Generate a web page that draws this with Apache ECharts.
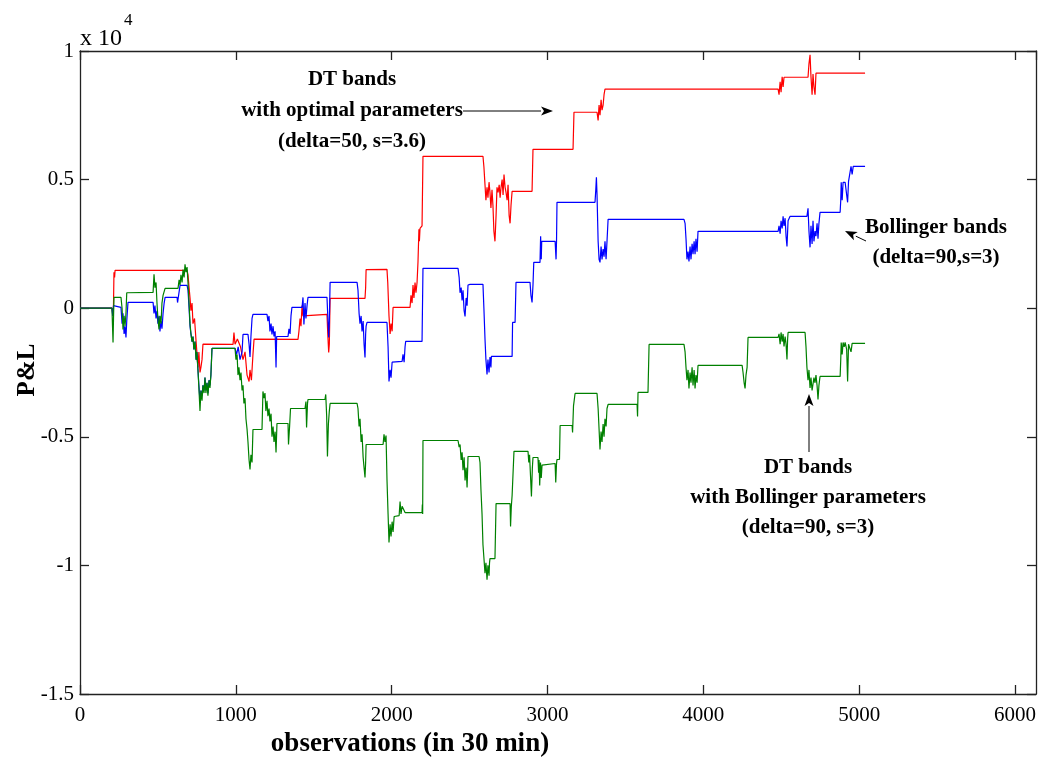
<!DOCTYPE html>
<html>
<head>
<meta charset="utf-8">
<script src="https://cdn.jsdelivr.net/npm/echarts@6/dist/echarts.min.js"></script>
<style>
html,body{margin:0;padding:0;background:#fff;}
#chart{width:1046px;height:761px;}
</style>
</head>
<body>
<div id="chart"></div>
<script>
// P&L of DT bands with optimal parameters (delta=50, s=3.6)
var dtOptimal = [[0,0],[205,0],[212,-300],[215,150],[218,1400],[222,1200],[225,1470],[687,1470],
[693,1300],[700,800],[706,400],[712,-100],[719,200],[725,-600],[735,-400],[745,-1300],[757,-2300],[763,-1700],[770,-2500],[776,-2300],[783,-2000],[789,-1400],
[796,-1410],[982,-1410],[988,-950],[995,-1400],[1010,-1200],[1030,-1500],[1046,-2000],[1059,-1700],[1072,-2600],[1085,-2850],[1091,-2400],[1100,-2800],[1110,-1800],[1117,-1200],
[1123,-1214],[1399,-1214],[1405,-900],[1412,-400],[1418,-700],[1425,100],[1431,-300],[1440,-241],[1585,-241],
[1590,-1000],[1596,-1720],[1600,-1400],[1605,380],[1829,380],[1833,800],[1836,1500],[1842,1510],[1970,1510],
[1975,1000],[1983,-300],[1990,-1000],[1996,-600],[2003,-900],[2009,31],[2118,31],
[2124,500],[2131,200],[2137,900],[2143,400],[2150,1000],[2156,600],[2163,1000],[2169,1800],[2175,3066],[2178,2600],[2182,3100],[2195,3200],[2201,5906],[2586,5906],
[2592,5500],[2599,4800],[2605,4200],[2612,4700],[2618,4300],[2625,4900],[2631,4500],[2637,3900],[2644,4600],[2650,4000],[2656,3000],[2663,2600],[2670,3600],[2676,4700],[2683,4500],[2690,4800],[2696,4300],[2702,4700],[2709,5000],[2715,4400],[2721,5200],[2728,4700],[2734,4500],[2741,4200],[2747,4800],[2754,3600],[2760,3300],[2766,4000],
[2773,4545],[2901,4545],[2907,6179],[3164,6179],[3170,7619],[3318,7619],
[3325,7300],[3331,7900],[3337,7500],[3344,8100],[3350,7700],[3357,7900],[3363,8300],[3369,8514],[4480,8514],
[4486,8300],[4493,8800],[4499,8400],[4506,9000],[4512,8600],[4518,8980],[4525,8980],[4672,8980],
[4678,9500],[4685,9850],[4691,9000],[4698,8300],[4704,9100],[4710,8600],[4717,8300],[4723,9136],[5038,9136]];

// P&L of Bollinger bands (delta=90, s=3)
var bollinger = [[0,0],[205,0],[210,-300],[215,100],[218,31],[263,31],
[270,-600],[276,-200],[283,-1000],[289,-700],[295,-1136],[300,-500],[308,226],[469,226],
[475,-200],[481,100],[488,-400],[494,-100],[500,-600],[507,-300],[513,-900],[520,-500],[526,-800],[533,-200],[540,200],
[546,420],[623,420],[626,220],[636,230],[642,887],[687,887],
[693,700],[700,0],[706,-700],[712,-1000],[719,-1300],[725,-1100],[731,-1600],[738,-1300],[745,-2000],[750,-1700],[757,-2400],[763,-3000],[770,-3600],[776,-3200],[783,-3400],[789,-3000],[796,-3200],[802,-2700],[808,-3200],[815,-2900],[821,-3300],[828,-2800],[834,-3000],[840,-2600],[847,-1564],[995,-1564],
[1005,-1800],[1015,-1500],[1027,-2000],[1040,-1700],[1046,-1019],[1078,-1019],
[1085,-1400],[1091,-1900],[1097,-1100],[1104,-400],[1110,-241],[1200,-241],
[1206,-500],[1213,-300],[1219,-900],[1226,-600],[1232,-1019],[1239,-700],[1245,-1100],[1252,-900],[1258,-2303],[1262,-1100],
[1264,-1097],[1335,-1097],[1341,-800],[1348,-1000],[1354,-300],[1360,31],[1425,31],
[1431,420],[1437,-630],[1444,200],[1450,-400],[1457,100],[1463,420],[1585,420],
[1590,-300],[1596,-1136],[1600,-500],[1605,1004],[1778,1004],
[1784,700],[1791,-200],[1797,-600],[1804,-300],[1810,-900],[1817,-500],[1823,-1400],[1829,-1914],[1833,-1000],[1836,-700],
[1842,-553],[1970,-553],[1977,-1500],[1983,-2848],[1990,-2400],[1996,-2700],[2003,-2100],[2009,-2070],[2067,-2070],
[2073,-1798],[2080,-2100],[2086,-1500],[2090,-1292],[2195,-1292],[2201,1549],[2426,1549],
[2433,1200],[2439,600],[2446,800],[2452,300],[2458,700],[2465,-100],[2471,-319],[2478,400],[2484,100],[2490,900],
[2503,926],[2586,926],[2592,0],[2599,-1200],[2605,-2000],[2612,-2576],[2618,-2000],[2625,-2500],[2631,-1900],[2637,-2300],[2640,-1876],
[2644,-1876],[2773,-1876],[2776,-553],[2792,-553],[2798,1004],[2888,1004],
[2894,500],[2901,226],[2907,900],[2912,1782],[2952,1782],[2956,2794],[2960,1899],[2963,2600],
[2965,2599],[3049,2599],[3055,1899],[3058,2599],[3061,4117],[3305,4117],
[3310,4600],[3314,5089],[3318,4400],[3325,2600],[3331,1900],[3337,1782],[3344,2400],[3350,1900],[3357,2300],[3363,2000],[3369,2600],[3376,1900],[3382,2600],
[3389,3455],[3876,3455],
[3883,3300],[3889,2700],[3895,1900],[3902,2200],[3908,1821],[3915,2400],[3921,1900],[3928,2500],[3934,2100],[3941,2600],[3947,2100],[3953,2700],[3960,2200],
[3966,2988],[4480,2988],
[4486,3200],[4493,2900],[4499,3400],[4506,3100],[4512,3572],[4518,3200],[4525,3500],[4531,2800],[4537,2400],[4544,3400],
[4557,3572],[4665,3572],
[4672,3883],[4678,3000],[4685,2366],[4691,3200],[4698,2500],[4704,3400],[4710,2600],[4717,3000],[4723,2800],[4730,3300],[4736,2700],[4742,3300],
[4749,3728],[4878,3728],[4882,4200],[4885,4895],[4891,4200],[4897,4895],[4910,4895],[4920,4934],[4926,4117],[4932,4934],
[4942,5000],[4948,5517],[4955,5200],[4962,5517],[5038,5517]];

// P&L of DT bands with Bollinger parameters (delta=90, s=3)
var dtBollinger = [[0,0],[205,0],[212,-1331],[215,-400],[218,420],[263,420],
[270,0],[276,-825],[283,-300],[289,-700],[295,-200],[300,600],[302,615],[469,615],
[475,1315],[481,800],[488,1000],[494,200],[500,-400],[507,-825],[513,-300],[520,-600],[526,200],[533,500],
[546,770],[629,770],
[636,1100],[642,900],[648,1300],[655,1000],[661,1500],[668,1200],[674,1704],[680,1400],[687,1600],
[693,1000],[700,200],[706,-600],[712,-1000],[719,-1300],[725,-1100],[731,-1600],[738,-1300],[745,-2000],[750,-1700],[757,-2400],[763,-3100],[770,-4000],[776,-3200],[783,-3600],[789,-3000],[796,-3300],[802,-2700],[808,-3300],[815,-2900],[821,-3400],[828,-2800],[834,-3100],[840,-2600],
[847,-1564],[995,-1564],
[1001,-2000],[1008,-1800],[1014,-2600],[1020,-2300],[1027,-2800],[1033,-2500],[1040,-3200],[1046,-3000],[1052,-3700],[1059,-3500],[1065,-4300],[1072,-4700],[1078,-5200],[1085,-5900],[1091,-6272],[1097,-5700],[1104,-6000],
[1110,-4716],[1168,-4716],[1174,-3237],
[1181,-3500],[1187,-3300],[1193,-4000],[1200,-3600],[1206,-4200],[1213,-3900],[1219,-4400],[1226,-4100],[1232,-5000],[1239,-4600],[1245,-5200],[1252,-4800],[1258,-5611],
[1264,-4482],[1335,-4482],[1338,-5299],[1345,-4600],[1351,-3899],[1444,-3899],
[1450,-3626],[1454,-4638],[1460,-3700],[1463,-3549],[1572,-3549],
[1577,-3354],[1583,-4200],[1588,-5766],[1594,-4500],[1600,-4000],[1605,-3704],[1778,-3704],
[1784,-3900],[1791,-4600],[1797,-4300],[1804,-5200],[1810,-4900],[1817,-5800],[1823,-6200],[1829,-6584],[1833,-6000],
[1836,-5299],[1945,-5299],[1951,-4903],[1957,-5200],[1964,-4950],
[1970,-6661],[1977,-8000],[1983,-9113],[1990,-8400],[1996,-8879],[2003,-8300],[2009,-8700],[2016,-8100],
[2028,-8062],[2048,-8062],[2054,-7518],[2060,-8000],[2067,-7700],[2086,-7946],[2195,-7946],[2197,-7634],[2199,-8000],
[2201,-5144],[2426,-5144],
[2433,-5400],[2439,-5300],[2446,-5900],[2452,-5600],[2458,-6300],[2465,-5800],[2471,-6700],[2478,-6200],[2484,-6973],[2488,-6200],
[2490,-5766],[2561,-5766],
[2567,-6000],[2573,-7051],[2580,-8000],[2586,-9200],[2592,-9700],[2599,-10300],[2605,-9900],[2612,-10552],[2618,-10000],[2625,-10400],[2628,-9900],
[2631,-9735],[2663,-9735],[2670,-7595],[2760,-7595],[2763,-8490],[2768,-7700],
[2773,-7284],[2783,-7284],[2785,-5564],[2875,-5564],
[2880,-6000],[2885,-5700],[2891,-6500],[2897,-7323],[2903,-6200],[2907,-5805],[2939,-5805],
[2943,-6400],[2946,-5900],[2950,-6895],[2955,-6000],[2960,-6600],[2965,-6100],
[2972,-6039],[3049,-6039],[3053,-6778],[3058,-6039],[3061,-5883],[3077,-5883],[3081,-4560],[3158,-4560],[3161,-4833],
[3167,-3800],[3177,-3315],[3318,-3315],
[3325,-3900],[3331,-4700],[3337,-5494],[3344,-4800],[3350,-5200],[3357,-4500],[3363,-5000],[3369,-4300],[3376,-4600],[3382,-3900],
[3389,-3743],[3575,-3743],[3578,-4210],[3581,-3276],[3645,-3276],[3652,-1409],[3876,-1409],
[3883,-1700],[3889,-2300],[3895,-2800],[3902,-2400],[3908,-3121],[3915,-2500],[3921,-2900],[3928,-2300],[3934,-3000],[3941,-2400],[3947,-3121],[3953,-2600],[3960,-2900],
[3966,-2226],[4249,-2226],
[4255,-2500],[4262,-2900],[4268,-3121],[4274,-2600],[4281,-2300],
[4287,-1136],[4480,-1136],
[4486,-1000],[4493,-1400],[4499,-942],[4506,-1300],[4512,-1000],[4518,-1486],[4525,-1100],[4531,-1400],[4537,-1992],[4541,-1200],
[4544,-942],[4653,-942],
[4659,-1500],[4665,-2300],[4672,-2800],[4678,-2400],[4685,-3100],[4691,-2700],[4698,-3200],[4704,-3237],[4710,-2700],[4717,-2900],[4723,-2600],[4730,-3000],[4736,-3549],[4742,-3000],
[4749,-2654],[4878,-2654],
[4882,-2000],[4885,-1331],[4891,-1800],[4897,-1331],[4904,-1500],[4910,-1331],[4920,-1600],[4926,-2848],[4932,-1400],[4942,-1331],[4948,-1700],[4955,-1370],[5038,-1370]];

var xRange = [0, 6135];      // axis box runs a little past the last tick
var yRange = [-15000, 10000];
var xStep = 1000;
var yStep = 5000;
var yScale = 10000; // axis shows values x 10^4

var annotOptimal = ['DT bands', 'with optimal parameters', '(delta=50, s=3.6)'];
var annotBollinger = ['Bollinger bands', '(delta=90,s=3)'];
var annotDtBoll = ['DT bands', 'with Bollinger parameters', '(delta=90, s=3)'];

var chart = echarts.init(document.getElementById('chart'), null, {renderer: 'canvas'});
var serif = 'Liberation Serif';
var axisCommon = {
  type: 'value',
  axisLine: {show: true, onZero: false, lineStyle: {color: '#222', width: 1.3}},
  axisTick: {show: true, inside: true, length: 9, lineStyle: {color: '#222', width: 1.3}},
  splitLine: {show: false}
};
function ylbl(v) { return String(+(v / yScale).toFixed(2)); }
function xlbl(v) { return (v % xStep === 0) ? String(v) : ''; }

function textEl(x, y, s, size, bold, align) {
  return {type: 'text', x: x, y: y, style: {text: s, fill: '#000', font: (bold ? 'bold ' : '') + size + 'px "' + serif + '"', textAlign: align || 'center', textVerticalAlign: 'middle'}, z: 100};
}
function arrow(x1, y1, x2, y2) {
  var a = Math.atan2(y2 - y1, x2 - x1), L = 12, w = 4.5;
  var bx = x2 - L * Math.cos(a), by = y2 - L * Math.sin(a);
  var px = -Math.sin(a) * w, py = Math.cos(a) * w;
  return [
    {type: 'line', shape: {x1: x1, y1: y1, x2: bx, y2: by}, style: {stroke: '#000', lineWidth: 1}, z: 100},
    {type: 'polygon', shape: {points: [[x2, y2], [bx + px, by + py], [bx + L * 0.25 * Math.cos(a), by + L * 0.25 * Math.sin(a)], [bx - px, by - py]]}, style: {fill: '#000'}, z: 100}
  ];
}

var graphics = [];
annotOptimal.forEach(function (s, i) { graphics.push(textEl(352, 80 + i * 31, s, 21, true)); });
annotBollinger.forEach(function (s, i) { graphics.push(textEl(936, 228 + i * 30, s, 21, true)); });
annotDtBoll.forEach(function (s, i) { graphics.push(textEl(808, 468 + i * 30, s, 21, true)); });
graphics = graphics.concat(arrow(463, 111, 553, 111), arrow(866, 241, 845, 231), arrow(809, 452, 809, 394));
graphics.push(textEl(410, 744, 'observations (in 30 min)', 27, true));
graphics.push({type: 'text', x: 28, y: 370, rotation: Math.PI / 2, style: {text: 'P&L', fill: '#000', font: 'bold 25px "' + serif + '"', textAlign: 'center', textVerticalAlign: 'middle'}, z: 100});
graphics.push(textEl(80, 39, 'x 10', 24, false, 'left'));
graphics.push(textEl(124, 21, '4', 17, false, 'left'));

var option = {
  animation: false,
  backgroundColor: '#fff',
  grid: {left: 80, top: 51, right: 10, bottom: 67, containLabel: false},
  xAxis: [
    Object.assign({}, axisCommon, {min: xRange[0], max: xRange[1], interval: xStep, position: 'bottom',
      axisLabel: {color: '#000', fontFamily: serif, fontSize: 21, margin: 11, formatter: xlbl, showMaxLabel: false}}),
    Object.assign({}, axisCommon, {min: xRange[0], max: xRange[1], interval: xStep, position: 'top', axisLabel: {show: false}})
  ],
  yAxis: [
    Object.assign({}, axisCommon, {min: yRange[0], max: yRange[1], interval: yStep, position: 'left',
      axisLabel: {color: '#000', fontFamily: serif, fontSize: 21, margin: 6, formatter: ylbl}}),
    Object.assign({}, axisCommon, {min: yRange[0], max: yRange[1], interval: yStep, position: 'right', axisLabel: {show: false}})
  ],
  series: [
    {name: 'DT optimal', type: 'line', data: dtOptimal, showSymbol: false, symbol: 'none', lineStyle: {color: '#ff0000', width: 1.2}, z: 2},
    {name: 'Bollinger', type: 'line', data: bollinger, showSymbol: false, symbol: 'none', lineStyle: {color: '#0000ff', width: 1.2}, z: 3},
    {name: 'DT Bollinger', type: 'line', data: dtBollinger, showSymbol: false, symbol: 'none', lineStyle: {color: '#008000', width: 1.2}, z: 4}
  ],
  graphic: graphics
};
chart.setOption(option);
</script>
</body>
</html>
